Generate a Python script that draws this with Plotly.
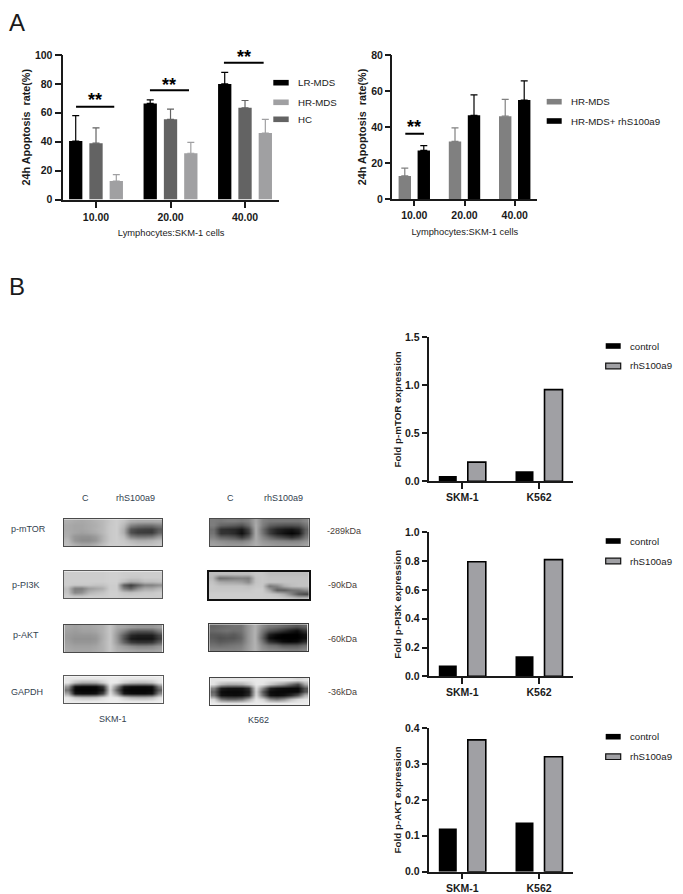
import plotly.graph_objects as go

W, H = 683, 894
FONT = "Liberation Sans"
INK = "#1a1a1a"

# ---- Panel A data
doses = ["10.00", "20.00", "40.00"]
lr_mds = [40.5, 66.5, 80.0]
lr_mds_err = [17.5, 2.5, 8.0]
hc = [39.0, 55.5, 63.5]
hc_err = [10.5, 7.0, 5.0]
hr_mds = [12.8, 32.0, 46.0]
hr_mds_err = [4.4, 7.5, 9.4]
hr_rhs = [27.0, 46.5, 55.0]
hr_rhs_err = [2.6, 11.3, 10.6]

# ---- Panel B data
cells = ["SKM-1", "K562"]
mtor_control = [0.055, 0.105]
mtor_rhs = [0.20, 0.955]
pi3k_control = [0.075, 0.14]
pi3k_rhs = [0.795, 0.81]
akt_control = [0.12, 0.137]
akt_rhs = [0.367, 0.32]

# ---- Western blot densities, read as grey levels (0 black, 255 white)
skm_mtor = [
    [175, 170, 168, 172, 178, 185, 198, 205, 195, 175, 170, 170, 170, 172],
    [170, 165, 165, 170, 175, 185, 200, 205, 185, 130, 115, 110, 110, 125],
    [170, 165, 165, 170, 178, 185, 200, 205, 175, 85, 70, 65, 62, 90],
    [172, 165, 160, 165, 172, 185, 200, 205, 175, 80, 62, 60, 58, 100],
    [175, 150, 145, 145, 155, 178, 200, 205, 190, 130, 115, 115, 120, 150],
    [185, 150, 140, 140, 150, 178, 200, 205, 200, 185, 175, 175, 180, 190],
    [190, 175, 165, 165, 175, 190, 205, 205, 205, 200, 195, 195, 195, 200],
]
skm_pi3k = [
    [205, 205, 205, 205, 205, 205, 208, 208, 205, 205, 205, 205, 205, 205],
    [205, 205, 205, 205, 205, 205, 208, 208, 205, 200, 200, 205, 205, 205],
    [205, 205, 205, 205, 205, 205, 208, 208, 190, 170, 175, 190, 190, 195],
    [205, 200, 200, 200, 195, 195, 205, 205, 90, 55, 90, 125, 125, 140],
    [190, 125, 125, 155, 165, 175, 205, 205, 130, 100, 145, 170, 170, 185],
    [195, 135, 145, 180, 190, 195, 208, 208, 195, 190, 195, 200, 200, 205],
    [205, 200, 200, 205, 205, 205, 208, 208, 205, 205, 205, 205, 205, 205],
]
skm_akt = [
    [165, 160, 165, 165, 170, 178, 198, 170, 165, 155, 150, 150, 150, 160],
    [160, 155, 160, 160, 165, 178, 198, 160, 130, 90, 80, 80, 85, 120],
    [155, 150, 150, 150, 155, 175, 198, 150, 90, 40, 30, 30, 30, 70],
    [155, 145, 145, 145, 150, 175, 198, 150, 80, 25, 20, 20, 20, 60],
    [160, 150, 150, 150, 155, 178, 198, 155, 100, 60, 50, 50, 55, 95],
    [165, 160, 160, 160, 165, 178, 198, 170, 155, 140, 130, 130, 135, 150],
    [170, 165, 165, 165, 170, 178, 198, 178, 170, 165, 160, 160, 160, 165],
]
skm_gapdh = [
    [232, 232, 232, 232, 232, 232, 235, 235, 232, 232, 232, 232, 232, 235],
    [230, 190, 170, 170, 175, 205, 235, 232, 205, 190, 185, 185, 195, 228],
    [150, 15, 8, 8, 10, 50, 225, 130, 25, 12, 10, 10, 15, 130],
    [110, 5, 3, 3, 5, 25, 215, 90, 8, 5, 5, 5, 8, 90],
    [165, 20, 12, 12, 18, 70, 225, 140, 22, 12, 10, 10, 18, 135],
    [232, 205, 195, 195, 200, 220, 235, 232, 205, 185, 180, 180, 190, 225],
    [235, 235, 235, 235, 235, 235, 238, 238, 235, 235, 235, 235, 235, 238],
]
k562_mtor = [
    [125, 120, 125, 125, 120, 130, 168, 130, 120, 120, 120, 120, 120, 135],
    [125, 100, 95, 90, 80, 110, 172, 125, 95, 85, 80, 80, 85, 115],
    [110, 50, 45, 40, 25, 70, 172, 110, 60, 35, 25, 20, 35, 95],
    [115, 50, 50, 40, 15, 60, 172, 115, 60, 30, 15, 5, 20, 100],
    [130, 100, 95, 85, 60, 95, 172, 135, 105, 80, 65, 50, 70, 120],
    [150, 140, 135, 130, 125, 140, 172, 150, 140, 135, 130, 125, 130, 145],
    [160, 155, 150, 150, 150, 158, 175, 160, 155, 150, 150, 150, 150, 160],
]
k562_pi3k = [
    [190, 190, 190, 190, 190, 190, 200, 200, 190, 190, 190, 190, 190, 190],
    [185, 110, 115, 125, 130, 125, 195, 200, 195, 195, 195, 195, 195, 195],
    [195, 170, 165, 165, 160, 140, 195, 200, 195, 195, 195, 195, 195, 195],
    [200, 195, 195, 195, 195, 190, 200, 200, 120, 135, 175, 190, 195, 195],
    [200, 200, 200, 200, 200, 200, 205, 205, 165, 95, 95, 115, 120, 140],
    [205, 205, 205, 205, 205, 205, 205, 205, 200, 190, 170, 130, 85, 70],
    [205, 205, 205, 205, 205, 205, 205, 205, 205, 205, 200, 195, 185, 190],
]
k562_akt = [
    [100, 105, 110, 115, 115, 150, 178, 140, 120, 115, 105, 95, 85, 100],
    [105, 110, 115, 110, 115, 150, 180, 125, 85, 70, 50, 30, 15, 50],
    [90, 90, 95, 90, 105, 150, 180, 110, 30, 10, 0, 0, 0, 15],
    [90, 80, 85, 85, 100, 150, 180, 100, 15, 0, 0, 0, 0, 10],
    [100, 90, 95, 100, 110, 150, 180, 120, 50, 30, 10, 5, 10, 40],
    [115, 110, 115, 120, 125, 155, 180, 140, 115, 110, 90, 90, 90, 110],
    [130, 130, 130, 130, 135, 158, 180, 150, 138, 135, 130, 125, 125, 135],
]
k562_gapdh = [
    [228, 228, 228, 228, 228, 228, 232, 232, 228, 228, 228, 225, 215, 225],
    [225, 185, 170, 170, 175, 200, 232, 228, 200, 175, 150, 110, 75, 170],
    [130, 30, 20, 18, 20, 50, 222, 130, 35, 18, 12, 10, 10, 85],
    [100, 12, 8, 8, 10, 30, 215, 85, 12, 8, 8, 8, 10, 85],
    [120, 18, 14, 12, 15, 45, 220, 110, 18, 12, 18, 40, 80, 175],
    [215, 120, 100, 100, 115, 170, 232, 210, 140, 120, 145, 190, 218, 230],
    [235, 228, 225, 225, 228, 232, 235, 235, 232, 232, 232, 235, 235, 235],
]


def px_x(a, b):
    return [a / W, b / W]


def px_y(top, bottom):
    return [1 - bottom / H, 1 - top / H]


def bar_trace(name, xs, ys, color, axis, idx, n, slot, width, err=None, outline=False):
    t = dict(
        type="bar", name=name, x=xs, y=ys, xaxis="x" + axis, yaxis="y" + axis,
        width=width, offset=(idx - (n - 1) / 2) * slot - width / 2,
        marker=dict(color=color, line=dict(color="black" if outline else color, width=1.6 if outline else 0)),
        showlegend=False, hoverinfo="x+y",
    )
    if err is not None:
        t["error_y"] = dict(type="data", array=err, arrayminus=[0] * len(err), symmetric=False,
                            color=color, thickness=1.2, width=3.5)
    return t


traces = []
# Panel A, left
s, w = 20.3 / 74.5, 13.3 / 74.5
traces += [
    bar_trace("LR-MDS", doses, lr_mds, "#000000", "", 0, 3, s, w, lr_mds_err),
    bar_trace("HC", doses, hc, "#636363", "", 1, 3, s, w, hc_err),
    bar_trace("HR-MDS", doses, hr_mds, "#a0a0a2", "", 2, 3, s, w, hr_mds_err),
]
# Panel A, right
s, w = 19 / 50.2, 12.4 / 50.2
traces += [
    bar_trace("HR-MDS", doses, hr_mds, "#808080", "2", 0, 2, s, w, hr_mds_err),
    bar_trace("HR-MDS+ rhS100a9", doses, hr_rhs, "#000000", "2", 1, 2, s, w, hr_rhs_err),
]
# Panel B
s, w = 29 / 76.7, 18 / 76.7
for ax, ctl, rhs in (("3", mtor_control, mtor_rhs), ("4", pi3k_control, pi3k_rhs), ("5", akt_control, akt_rhs)):
    traces += [
        bar_trace("control", cells, ctl, "#000000", ax, 0, 2, s, w),
        bar_trace("rhS100a9", cells, rhs, "#a0a0a4", ax, 1, 2, s, w, outline=True),
    ]

layout = dict(
    width=W, height=H, margin=dict(l=0, r=0, t=0, b=0, pad=0, autoexpand=False), autosize=False,
    paper_bgcolor="white", plot_bgcolor="white", barmode="group", showlegend=False,
    font=dict(family=FONT, color=INK),
)


def chart_axes(suffix, xdom, ydom, xrange, yrange, tickvals, ytitle, ysize, fmt, xtitle=None, ticklen=5.5, xstand=9):
    x = dict(domain=px_x(*xdom), range=xrange, type="category", anchor="y" + suffix, showgrid=False,
             zeroline=False, showline=True, linecolor=INK, linewidth=1.5, ticks="outside", ticklen=ticklen, tickwidth=1.5,
             tickcolor=INK, tickfont=dict(family=FONT, size=10.5, weight=700, color=INK), fixedrange=True,
             automargin=False)
    if xtitle:
        x["title"] = dict(text=xtitle, font=dict(family=FONT, size=9.3, color=INK), standoff=xstand)
    y = dict(domain=px_y(*ydom), range=yrange, anchor="x" + suffix, showgrid=False, zeroline=False, showline=True,
             linecolor=INK, linewidth=1.5, ticks="outside", ticklen=ticklen, tickwidth=1.5, tickcolor=INK,
             tickvals=tickvals, tickformat=fmt, automargin=False,
             tickfont=dict(family=FONT, size=10.5, weight=700, color=INK),
             title=dict(text=ytitle, font=dict(family=FONT, size=ysize, weight=700, color=INK), standoff=2),
             fixedrange=True)
    layout["xaxis" + suffix] = x
    layout["yaxis" + suffix] = y


XT = "Lymphocytes:SKM-1 cells"
YT = "24h Apoptosis \u00a0rate(%)"
chart_axes("", (63.3, 279), (55, 199.5), [-0.439, 2.456], [0, 100], [0, 20, 40, 60, 80, 100], YT, 10.8, "d", XT, ticklen=7, xstand=7.5)
chart_axes("2", (392.3, 537.3), (55, 199), [-0.438, 2.45], [0, 80], [0, 20, 40, 60, 80], YT, 10.8, "d", XT)
chart_axes("3", (429, 573.3), (337.3, 481.3), [-0.434, 1.447], [0, 1.5], [0, 0.5, 1.0, 1.5], "Fold p-mTOR expression", 9.8, ".1f")
chart_axes("4", (429, 573.3), (532.3, 676.3), [-0.434, 1.447], [0, 1.0], [0, 0.2, 0.4, 0.6, 0.8, 1.0], "Fold p-PI3K expression", 9.8, ".1f")
chart_axes("5", (429, 573.3), (728, 871.7), [-0.434, 1.447], [0, 0.4], [0, 0.1, 0.2, 0.3, 0.4], "Fold p-AKT expression", 9.8, ".1f")

# Blots
blots = [
    (skm_mtor, (64, 162.3), (519.3, 546), "#4a4a4a", 1),
    (skm_pi3k, (64, 162.3), (571.3, 598.3), "#5a5a5a", 1),
    (skm_akt, (64.3, 162.7), (625, 652), "#4a4a4a", 1),
    (skm_gapdh, (64.3, 162.7), (676.3, 703.3), "#5a5a5a", 1),
    (k562_mtor, (210, 308.7), (519, 546.3), "#4a4a4a", 1),
    (k562_pi3k, (208.7, 309), (571.7, 599.3), "#111111", 1.5),
    (k562_akt, (209.3, 307.7), (624.3, 651.3), "#3a3a3a", 1),
    (k562_gapdh, (210.3, 308.7), (678, 705), "#444444", 1),
]
for i, (z, xd, yd, edge, lw) in enumerate(blots):
    sfx = str(i + 6)
    traces.append(dict(type="heatmap", z=z, xaxis="x" + sfx, yaxis="y" + sfx, zmin=0, zmax=255, zsmooth="best",
                       colorscale=[[0, "#000000"], [1, "#ffffff"]], showscale=False, hoverinfo="skip"))
    layout["xaxis" + sfx] = dict(domain=px_x(*xd), anchor="y" + sfx, showgrid=False, zeroline=False, ticks="",
                                 showticklabels=False, showline=True, mirror=True, linecolor=edge, linewidth=lw,
                                 fixedrange=True)
    layout["yaxis" + sfx] = dict(domain=px_y(*yd), anchor="x" + sfx, showgrid=False, zeroline=False, ticks="",
                                 showticklabels=False, showline=True, mirror=True, linecolor=edge, linewidth=lw,
                                 autorange="reversed", fixedrange=True)

annotations = []
shapes = []


def note(text, x, y, size=9, anchor="center", color=INK, weight=400):
    if anchor == "left":
        x -= 1.5
    annotations.append(dict(text=text, x=x / W, y=1 - y / H, xref="paper", yref="paper", showarrow=False,
                            xanchor=anchor, yanchor="middle", font=dict(family=FONT, size=size, color=color, weight=weight)))


def swatch(x0, x1, yc, color, edge=None):
    shapes.append(dict(type="rect", xref="paper", yref="paper", x0=x0 / W, x1=x1 / W,
                       y0=1 - (yc + 2.8) / H, y1=1 - (yc - 2.8) / H, fillcolor=color,
                       line=dict(color=edge or color, width=1.2 if edge else 0)))


def sig(axis, x0, x1, y, star_x, star_y_px):
    shapes.append(dict(type="line", xref="x" + axis, yref="y" + axis, x0=x0, x1=x1, y0=y, y1=y,
                       line=dict(color="black", width=2)))
    note("**", star_x, star_y_px, size=18, weight=700, color="black")


note("A", 16.5, 22, size=24)
note("B", 16.5, 287, size=24)

# Legends, panel A
for label, color, yc in (("LR-MDS", "#000000", 82.7), ("HR-MDS", "#a0a0a2", 102.3), ("HC", "#636363", 119.3)):
    swatch(273.3, 288.7, yc, color)
    note(label, 297.7, yc, size=9.7, anchor="left")
for label, color, yc in (("HR-MDS", "#808080", 101.7), ("HR-MDS+ rhS100a9", "#000000", 121)):
    swatch(546.7, 561.7, yc, color)
    note(label, 570.7, yc, size=9.7, anchor="left")
# Legends, panel B
for y1, y2 in ((346, 366), (541, 561), (736.7, 756.7)):
    swatch(605.7, 620.7, y1, "#000000")
    swatch(605.7, 620.7, y2, "#a0a0a4", edge="#111111")
    note("control", 629.3, y1, size=9.7, anchor="left")
    note("rhS100a9", 629.3, y2, size=9.7, anchor="left")

# Significance bars
sig("", -0.268, 0.245, 64.2, 95, 100)
sig("", 0.724, 1.248, 75.6, 169.3, 85)
sig("", 1.717, 2.25, 94.7, 244, 57)
sig("2", -0.179, 0.193, 36.3, 414.3, 127)

# Blot labels
BLUE = "#33424f"
BROWN = "#4a4038"
for text, x, y in (("C", 85.7, 497.7), ("rhS100a9", 135.7, 497.7), ("C", 230.7, 497.7), ("rhS100a9", 283, 497.7),
                   ("p-mTOR", 28, 529), ("p-PI3K", 25.5, 585), ("p-AKT", 25.5, 635), ("GAPDH", 27, 691.7),
                   ("SKM-1", 113, 718.7), ("K562", 258.7, 720)):
    note(text, x, y, size=9, color=BLUE)
for text, x, y in (("-289kDa", 344, 531), ("-90kDa", 342, 584.7), ("-60kDa", 342, 638.7), ("-36kDa", 342, 692)):
    note(text, x, y, size=9, color=BROWN)

layout["annotations"] = annotations
layout["shapes"] = shapes

fig = go.Figure(data=traces, layout=layout)
fig.write_html("out.html", config=dict(displayModeBar=False),
               post_script="document.body.style.margin='0';document.documentElement.style.overflow='hidden';")
